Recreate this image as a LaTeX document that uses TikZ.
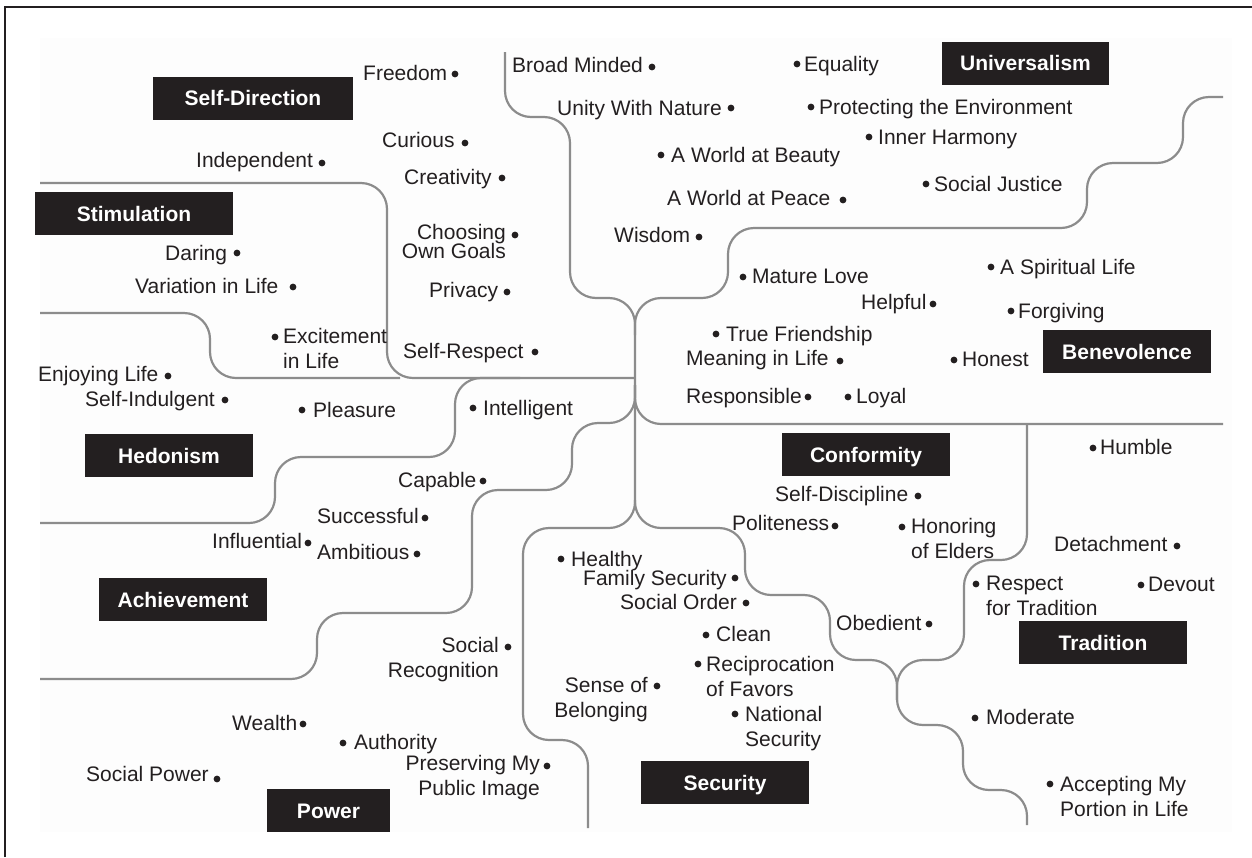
\documentclass[tikz,border=0pt]{standalone}
\usepackage{fontspec}
\setmainfont{Liberation Sans}
\definecolor{ink}{HTML}{231F20}
\definecolor{rule}{HTML}{8C8C8C}
\definecolor{panel}{HTML}{FDFDFD}
% value label: name, baseline start, text, bullet centre
\newcommand\valueL[4]{\node[valuetext] (#1) at (#2) {#3};\fill[ink] (#4) circle (3.4pt);}
\newcommand\valueR[4]{\node[valuetext,anchor=base east] (#1) at (#2) {#3};\fill[ink] (#4) circle (3.4pt);}
\newcommand\twoR[2]{\begin{tabular}[t]{@{}r@{}}#1\\#2\end{tabular}}
\newcommand\twoL[2]{\begin{tabular}[t]{@{}l@{}}#1\\#2\end{tabular}}
\begin{document}
\begin{tikzpicture}[x=1pt,y=-1pt,
  divider/.style={draw=rule, line width=2.2pt, rounded corners=26pt},
  valuetext/.style={font=\fontsize{21}{25}\selectfont, text=ink, inner sep=0pt, anchor=base west},
  category/.style={fill=ink, text=white, font=\fontsize{21}{25}\selectfont\bfseries,
    inner sep=0pt, text height=15pt, text depth=0pt, minimum height=43pt}]
\useasboundingbox (0,0) rectangle (1252,857);
\fill[panel] (40,38) rectangle (1232,832);
\draw[ink, line width=1.3pt] (5,857) -- (5,7) -- (1252,7);

% dividing lines between the value regions
\draw[divider] (505,52) -- (505,117) -- (570,117) -- (570,298) -- (635,298) -- (635,528)
  -- (523,528) -- (523,740) -- (588,740) -- (588,828);
\draw[divider] (1223,97) -- (1183,97) -- (1183,163) -- (1087,163) -- (1087,228)
  -- (728,228) -- (728,298) -- (635,298) -- (635,335);
\draw[divider] (40,183) -- (387,183) -- (387,378) -- (635,378);
\draw[divider] (40,313) -- (210,313) -- (210,378) -- (400,378);
\draw[divider] (40,523) -- (275,523) -- (275,457) -- (455,457) -- (455,378) -- (520,378);
\draw[divider] (40,679) -- (317,679) -- (317,613) -- (472,613) -- (472,490) -- (572,490)
  -- (572,423) -- (635,423) -- (635,385);
\draw[divider] (1223,424) -- (635,424) -- (635,385);
\draw[divider] (635,500) -- (635,528) -- (745,528) -- (745,595) -- (830,595) -- (830,660)
  -- (897,660) -- (897,725) -- (963,725) -- (963,790) -- (1027,790) -- (1027,825);
\draw[divider] (1027,424) -- (1027,560) -- (964,560) -- (964,660) -- (897,660) -- (897,700);

% category boxes
\node[category, minimum width=200pt] (selfdir) at (253,98) {Self-Direction};
\node[category, minimum width=198pt] (stim) at (134,213.5) {Stimulation};
\node[category, minimum width=167pt] (univ) at (1025.5,63) {Universalism};
\node[category, minimum width=168pt] (hedon) at (169,455.5) {Hedonism};
\node[category, minimum width=168pt] (achieve) at (183,599.5) {Achievement};
\node[category, minimum width=123pt] (power) at (328.5,810.5) {Power};
\node[category, minimum width=168pt] (secur) at (725,782.5) {Security};
\node[category, minimum width=168pt] (trad) at (1103,642.5) {Tradition};
\node[category, minimum width=168pt] (benev) at (1127,351.5) {Benevolence};
\node[category, minimum width=168pt] (conform) at (866,454.5) {Conformity};

% self-direction
\valueL{freedom}{363,80}{Freedom}{455,74}
\valueL{curious}{382,147}{Curious}{465,143}
\valueL{independent}{196,167}{Independent}{322,163}
\valueL{creativity}{404,184}{Creativity}{502,178}
\valueR{goals}{506,239}{\begin{tabular}[t]{@{}r@{}}Choosing\\[-6pt]Own Goals\end{tabular}}{515,235}
\valueL{privacy}{429,297}{Privacy}{507,292}
\valueL{selfrespect}{403,358}{Self-Respect}{535,352}
% stimulation
\valueL{daring}{165,260}{Daring}{237,253}
\valueL{variation}{135,293}{Variation in Life}{293,287}
\valueL{excitement}{283,343}{\twoL{Excitement}{in Life}}{275,337}
% hedonism
\valueL{enjoying}{38,381}{Enjoying Life}{168,376}
\valueL{indulgent}{85,406}{Self-Indulgent}{225,400}
\valueL{pleasure}{313,417}{Pleasure}{302,410}
% achievement
\valueL{intelligent}{483,415}{Intelligent}{473,408}
\valueL{capable}{398,487}{Capable}{483,481}
\valueL{successful}{317,523}{Successful}{425,518}
\valueL{influential}{212,548}{Influential}{308,543}
\valueL{ambitious}{317,559}{Ambitious}{417,554}
\valueR{recognition}{499,652}{\twoR{Social}{Recognition}}{508,647}
% power
\valueL{wealth}{232,730}{Wealth}{303,724}
\valueL{authority}{354,749}{Authority}{343,743}
\valueL{socialpower}{86,781}{Social Power}{217,779}
\valueR{image}{540,770}{\twoR{Preserving My}{Public Image}}{547,766}
% universalism
\valueL{broad}{512,72}{Broad Minded}{652,67}
\valueL{unity}{557,115}{Unity With Nature}{731,108}
\valueL{beauty}{671,162}{A World at Beauty}{661,155}
\valueL{peace}{667,205}{A World at Peace}{843,200}
\valueL{wisdom}{614,242}{Wisdom}{699,237}
\valueL{equality}{804,71}{Equality}{797,64}
\valueL{environment}{819,114}{Protecting the Environment}{811,107}
\valueL{harmony}{878,144}{Inner Harmony}{869,137}
\valueL{justice}{934,191}{Social Justice}{926,184}
% benevolence
\valueL{maturelove}{752,283}{Mature Love}{743,277}
\valueL{spiritual}{1000,274}{A Spiritual Life}{991,267}
\valueL{helpful}{861,309}{Helpful}{933,304}
\valueL{forgiving}{1018,318}{Forgiving}{1011,311}
\valueL{friendship}{726,341}{True Friendship}{716,334}
\valueL{meaning}{686,365}{Meaning in Life}{840,361}
\valueL{honest}{962,366}{Honest}{954,360}
\valueL{responsible}{686,403}{Responsible}{808,397}
\valueL{loyal}{856,403}{Loyal}{848,397}
% conformity
\valueL{discipline}{775,501}{Self-Discipline}{918,496}
\valueL{politeness}{732,530}{Politeness}{835,526}
\valueL{honoring}{911,533}{\twoL{Honoring}{of Elders}}{902,527}
\valueL{obedient}{836,630}{Obedient}{929,624}
% tradition
\valueL{humble}{1100,454}{Humble}{1093,448}
\valueL{detachment}{1054,551}{Detachment}{1177,546}
\valueL{respect}{986,590}{\twoL{Respect}{for Tradition}}{976,584}
\valueL{devout}{1148,591}{Devout}{1141,585}
\valueL{moderate}{986,724}{Moderate}{975,718}
\valueL{accepting}{1060,791}{\twoL{Accepting My}{Portion in Life}}{1050,784}
% security
\valueL{healthy}{571,566}{Healthy}{561,559}
\valueL{family}{583,585}{Family Security}{735,578}
\valueL{order}{620,609}{Social Order}{746,603}
\valueL{clean}{716,641}{Clean}{706,635}
\valueL{reciprocation}{706,671}{\twoL{Reciprocation}{of Favors}}{698,664}
\valueL{national}{745,721}{\twoL{National}{Security}}{735,714}
\valueR{belonging}{648,692}{\twoR{Sense of}{Belonging}}{657,686}
\end{tikzpicture}
\end{document}
